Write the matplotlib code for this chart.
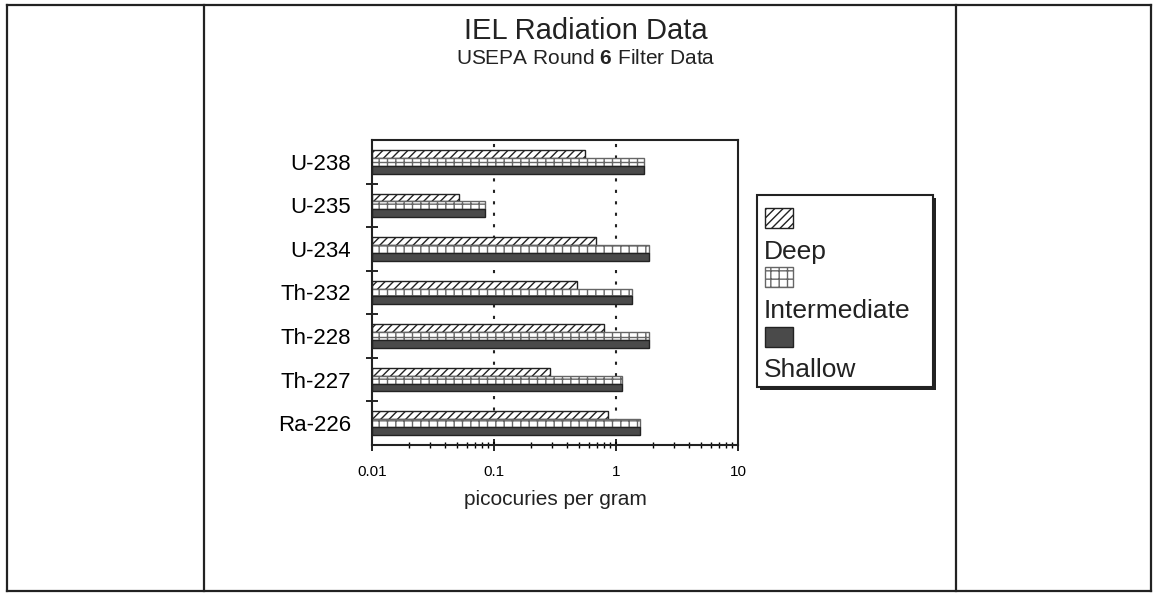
import numpy as np
import matplotlib
matplotlib.use("Agg")
import matplotlib.pyplot as plt
from matplotlib.patches import Rectangle
from matplotlib.lines import Line2D
from matplotlib.ticker import FixedLocator, NullFormatter

plt.rcParams['font.family'] = ['Liberation Sans', 'DejaVu Sans']
plt.rcParams['mathtext.fontset'] = 'custom'
plt.rcParams['mathtext.rm'] = 'Liberation Sans'
plt.rcParams['mathtext.bf'] = 'Liberation Sans:bold'
plt.rcParams['hatch.linewidth'] = 1.0

# data (picocuries per gram)
isotopes = ["U-238", "U-235", "U-234", "Th-232", "Th-228", "Th-227", "Ra-226"]
deep = [0.56, 0.052, 0.68, 0.48, 0.79, 0.29, 0.86]
intermediate = [1.71, 0.084, 1.88, 1.34, 1.85, 1.13, 1.56]
shallow = [1.71, 0.084, 1.88, 1.34, 1.85, 1.13, 1.56]
series_names = ["Deep", "Intermediate", "Shallow"]
x_ticks = [0.01, 0.1, 1, 10]
x_ticklabels = ["0.01", "0.1", "1", "10"]

W, H = 1155, 594
fig = plt.figure(figsize=(W / 100, H / 100), dpi=100)

def fx(px):
    return px / W

def fy(py):
    return 1 - py / H

# page frame
frame = dict(color="#222222", lw=1.6, transform=fig.transFigure)
fig.add_artist(Line2D([fx(7), fx(1151)], [fy(5), fy(5)], **frame))
fig.add_artist(Line2D([fx(7), fx(1151)], [fy(591), fy(591)], **frame))
fig.add_artist(Line2D([fx(7), fx(7)], [fy(5), fy(591)], **frame))
fig.add_artist(Line2D([fx(1151), fx(1151)], [fy(5), fy(591)], **frame))
fig.add_artist(Line2D([fx(204), fx(204)], [fy(5), fy(591)], **frame))
fig.add_artist(Line2D([fx(956), fx(956)], [fy(5), fy(591)], **frame))

fig.text(fx(586), fy(31), "IEL Radiation Data", fontsize=21, ha="center", va="center", color="#222222")
fig.text(fx(586), fy(59), r"USEPA Round $\mathbf{6}$ Filter Data", fontsize=15, ha="center", va="center", color="#222222")

ax = fig.add_axes([fx(372), fy(445), fx(738) - fx(372), (445 - 140) / H])

y = np.arange(len(isotopes))
h = 0.18
base = x_ticks[0]
styles = [
    dict(facecolor="white", hatch="////", edgecolor="#222222"),
    dict(facecolor="white", hatch="++", edgecolor="#666666"),
    dict(facecolor="#4a4a4a", edgecolor="#222222"),
]
for i, vals in enumerate([deep, intermediate, shallow]):
    v = np.array(vals)
    ax.barh(y + (i - 1) * h, v - base, left=base, height=h, linewidth=1.0, **styles[i])

ax.set_xscale("log")
ax.set_xlim(x_ticks[0], x_ticks[-1])
ax.set_ylim(len(isotopes) - 0.5, -0.5)
ax.set_xticks(x_ticks)
ax.set_xticklabels(x_ticklabels, fontsize=11)
ax.set_yticks(y)
ax.set_yticklabels(isotopes, fontsize=16)
ax.yaxis.set_minor_locator(FixedLocator(y[:-1] + 0.5))
ax.yaxis.set_minor_formatter(NullFormatter())
ax.tick_params(axis="y", which="major", length=0, pad=15)
ax.tick_params(axis="y", which="minor", direction="inout", length=9, width=1.2)
ax.tick_params(axis="x", which="major", direction="inout", length=9, width=1.2, pad=10)
ax.tick_params(axis="x", which="minor", direction="inout", length=5, width=1.0)
for t in [0.1, 1]:
    ax.axvline(t, color="#222222", linestyle=(0, (1.5, 4)), lw=1.5, zorder=0)
for s in ax.spines.values():
    s.set_linewidth(1.5)
    s.set_color("#222222")
ax.set_xlabel("picocuries per gram", fontsize=15, labelpad=8, color="#222222")

# legend box drawn as in the original (swatch above label)
lx0, ly0, lx1, ly1 = 757, 195, 933, 387
fig.add_artist(Rectangle((fx(lx0 + 3), fy(ly1 + 3)), fx(lx1) - fx(lx0), (ly1 - ly0) / H,
                         transform=fig.transFigure, facecolor="#222222", edgecolor="none"))
fig.add_artist(Rectangle((fx(lx0), fy(ly1)), fx(lx1) - fx(lx0), (ly1 - ly0) / H,
                         transform=fig.transFigure, facecolor="white", edgecolor="#222222", lw=1.5))
sw_top = [208, 267, 327]
txt_y = [252, 311, 370]
for i, name in enumerate(series_names):
    fig.add_artist(Rectangle((fx(765), fy(sw_top[i] + 20)), fx(793) - fx(765), 20 / H,
                             transform=fig.transFigure, lw=1.0, **styles[i]))
    fig.text(fx(764), fy(txt_y[i]), name, fontsize=19, ha="left", va="center", color="#222222")

fig.savefig("out.png", dpi=100)
